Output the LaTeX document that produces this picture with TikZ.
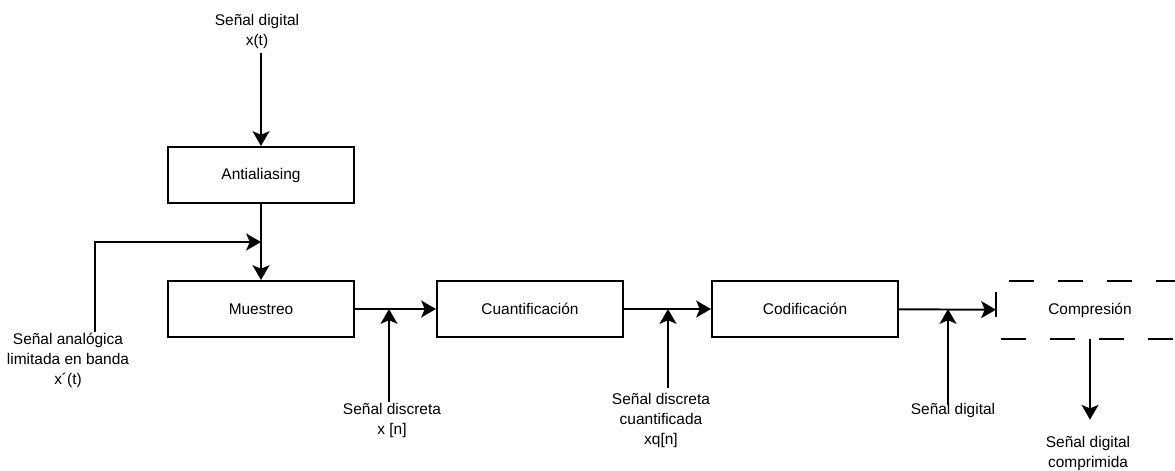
\documentclass[tikz,border=0pt]{standalone}
\usepackage{fontspec}
\setmainfont{Liberation Sans}
\usetikzlibrary{arrows.meta}
\begin{document}
\begin{tikzpicture}[x=0.025cm,y=-0.025cm,line width=1.4pt,
  font=\fontsize{11}{14}\selectfont,
  caja/.style={draw,minimum width=4.65cm,minimum height=1.4cm,inner sep=0pt},
  texto/.style={align=center,inner sep=3pt,anchor=base},
  flecha/.style={-{Stealth[length=10.5pt,width=12pt,inset=2.5pt]}},
  raya/.style={dash pattern=on 17.8pt off 17.1pt}]
\path[use as bounding box] (0,0) rectangle (1175,470);
\node[caja] (anti) at (261,175) {Antialiasing};
\node[caja] (mues) at (261,309) {Muestreo};
\node[caja] (cuan) at (530,309) {Cuantificación};
\node[caja] (codi) at (805,309) {Codificación};
\node[minimum width=4.65cm,minimum height=1.4cm,inner sep=0pt] (comp) at (1090,310) {Compresión};
\draw[raya,dash phase=25.7pt] (comp.north west) -- (comp.north east);
\draw[raya,dash phase=31.3pt] (comp.south west) -- (comp.south east);
\draw[raya,dash phase=27.1pt] (comp.north west) -- (comp.south west);
\draw[raya] (comp.north east) -- (comp.south east);
\node[texto] (entrada) at (257,45) {Señal digital\\x(t)};
\node[texto] (analog) at (68,384) {Señal analógica\\limitada en banda\\x´(t)};
\node[texto] (discreta) at (392,434) {Señal discreta\\x [n]};
\node[texto] (cuantif) at (661,444) {Señal discreta\\cuantificada\\xq[n]};
\node[texto] (digital) at (953,414) {Señal digital};
\node[texto] (comprimida) at (1088,467) {Señal digital\\comprimida};
\coordinate (codo) at (95,242);
\coordinate (union) at (261,242);
\coordinate (p1) at (389,309);
\coordinate (p2) at (668,309);
\coordinate (p3) at (948,309);
\draw[flecha] (entrada.south -| anti) -- (anti);
\draw[flecha,shorten <=-3pt] (analog.north -| codo) -- (codo) -- (union);
\draw[flecha] (anti) -- (mues);
\draw[flecha] (mues) -- (cuan);
\draw[flecha] (cuan) -- (codi);
\draw[flecha] (codi) -- (comp);
\draw[flecha,shorten <=-3pt] (discreta.north -| p1) -- (p1);
\draw[flecha] (cuantif.north -| p2) -- (p2);
\draw[flecha,shorten <=-5pt] (digital.north -| p3) -- (p3);
\draw[flecha,shorten >=8pt] (comp) -- (comprimida.north -| comp);
\end{tikzpicture}
\end{document}
